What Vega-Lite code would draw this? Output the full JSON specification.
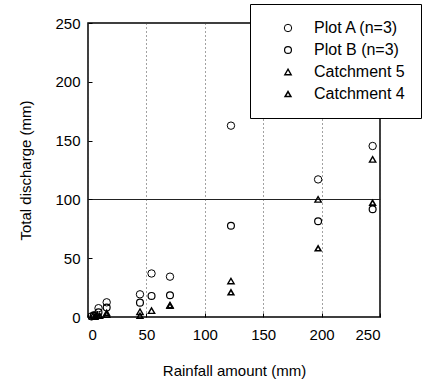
{
  "$schema": "https://vega.github.io/schema/vega-lite/v6.json",
  "autosize": "none",
  "width": 292,
  "height": 294,
  "padding": {"left": 88, "top": 23, "right": 45, "bottom": 67},
  "background": "white",
  "config": {
    "font": "Liberation Sans",
    "view": {"stroke": "black", "strokeWidth": 1.5},
    "axis": {
      "domain": false,
      "labelFont": "Liberation Sans",
      "titleFont": "Liberation Sans",
      "labelFontSize": 15,
      "titleFontSize": 15,
      "titleFontWeight": "normal",
      "labelColor": "black",
      "titleColor": "black",
      "tickColor": "black",
      "tickSize": -4,
      "tickWidth": 1
    }
  },
  "data": {
    "values": [
      {"rain": 3, "q": 0.5, "series": "Plot A (n=3)"},
      {"rain": 5, "q": 1.5, "series": "Plot A (n=3)"},
      {"rain": 9, "q": 7.5, "series": "Plot A (n=3)"},
      {"rain": 16, "q": 12.5, "series": "Plot A (n=3)"},
      {"rain": 44.5, "q": 19.3, "series": "Plot A (n=3)"},
      {"rain": 54.4, "q": 37, "series": "Plot A (n=3)"},
      {"rain": 70.2, "q": 34.3, "series": "Plot A (n=3)"},
      {"rain": 122.4, "q": 162.7, "series": "Plot A (n=3)"},
      {"rain": 197, "q": 117, "series": "Plot A (n=3)"},
      {"rain": 243.7, "q": 145.4, "series": "Plot A (n=3)"},
      {"rain": 5, "q": 1, "series": "Plot B (n=3)"},
      {"rain": 9, "q": 4, "series": "Plot B (n=3)"},
      {"rain": 16, "q": 8, "series": "Plot B (n=3)"},
      {"rain": 44.5, "q": 12.2, "series": "Plot B (n=3)"},
      {"rain": 54.4, "q": 17.9, "series": "Plot B (n=3)"},
      {"rain": 70.2, "q": 18.5, "series": "Plot B (n=3)"},
      {"rain": 122.4, "q": 77.6, "series": "Plot B (n=3)"},
      {"rain": 197, "q": 81.4, "series": "Plot B (n=3)"},
      {"rain": 243.7, "q": 91.6, "series": "Plot B (n=3)"},
      {"rain": 4, "q": 0.5, "series": "Catchment 5"},
      {"rain": 8, "q": 1.5, "series": "Catchment 5"},
      {"rain": 16, "q": 2, "series": "Catchment 5"},
      {"rain": 44.5, "q": 4.5, "series": "Catchment 5"},
      {"rain": 54.4, "q": 5.4, "series": "Catchment 5"},
      {"rain": 70.2, "q": 10.2, "series": "Catchment 5"},
      {"rain": 122.4, "q": 30.6, "series": "Catchment 5"},
      {"rain": 197, "q": 100, "series": "Catchment 5"},
      {"rain": 243.7, "q": 134, "series": "Catchment 5"},
      {"rain": 6, "q": 0.3, "series": "Catchment 4"},
      {"rain": 10, "q": 1, "series": "Catchment 4"},
      {"rain": 16, "q": 3.5, "series": "Catchment 4"},
      {"rain": 44.5, "q": 1, "series": "Catchment 4"},
      {"rain": 70.2, "q": 9.5, "series": "Catchment 4"},
      {"rain": 122.4, "q": 21, "series": "Catchment 4"},
      {"rain": 197, "q": 58.4, "series": "Catchment 4"},
      {"rain": 243.7, "q": 97.2, "series": "Catchment 4"}
    ]
  },
  "mark": {"type": "point", "filled": false, "color": "black", "opacity": 1},
  "encoding": {
    "x": {
      "field": "rain", "type": "quantitative",
      "scale": {"domain": [0, 250], "nice": false, "zero": false},
      "axis": {
        "title": "Rainfall amount (mm)",
        "values": [0, 50, 100, 150, 200, 250],
        "grid": true,
        "gridColor": "#444",
        "gridDash": [1, 3],
        "gridWidth": 1,
        "labelPadding": 14,
        "titlePadding": 21
      }
    },
    "y": {
      "field": "q", "type": "quantitative",
      "scale": {"domain": [0, 250], "nice": false, "zero": false},
      "axis": {
        "title": "Total discharge (mm)",
        "values": [0, 50, 100, 150, 200, 250],
        "grid": true,
        "gridColor": "#222",
        "gridWidth": 1,
        "gridOpacity": {"condition": {"test": "datum.value === 100", "value": 1}, "value": 0},
        "labelPadding": 12,
        "titlePadding": 21
      }
    },
    "shape": {
      "field": "series", "type": "nominal",
      "scale": {
        "domain": ["Plot A (n=3)", "Plot B (n=3)", "Catchment 5", "Catchment 4"],
        "range": ["circle", "circle", "triangle-up", "triangle-up"]
      },
      "legend": {
        "title": null,
        "orient": "none",
        "legendX": 162,
        "legendY": -19,
        "fillColor": "white",
        "strokeColor": "black",
        "padding": 16,
        "symbolOffset": 14,
        "labelOffset": 18,
        "labelFontSize": 16,
        "labelFont": "Liberation Sans",
        "labelColor": "black",
        "rowPadding": 6,
        "symbolStrokeColor": "black",
        "symbolFillColor": "transparent"
      }
    },
    "size": {
      "field": "series", "type": "nominal",
      "scale": {
        "domain": ["Plot A (n=3)", "Plot B (n=3)", "Catchment 5", "Catchment 4"],
        "range": [55, 32, 65, 60]
      }
    },
    "strokeWidth": {
      "field": "series", "type": "nominal",
      "scale": {
        "domain": ["Plot A (n=3)", "Plot B (n=3)", "Catchment 5", "Catchment 4"],
        "range": [1, 1.6, 1, 1.3]
      }
    }
  }
}
